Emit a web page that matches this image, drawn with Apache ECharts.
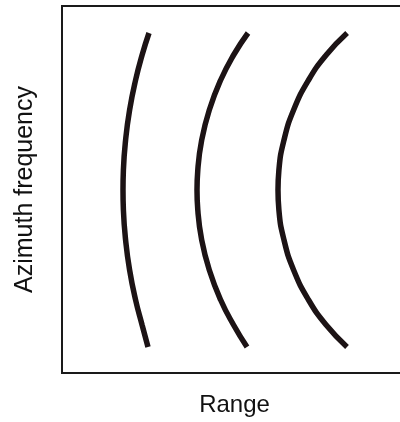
<!DOCTYPE html>
<html>
<head>
<meta charset="utf-8">
<script src="https://cdn.jsdelivr.net/npm/echarts@6/dist/echarts.min.js"></script>
<style>
  html, body { margin: 0; padding: 0; background: #fff; }
  #chart { width: 400px; height: 422px; }
</style>
</head>
<body>
<div id="chart"></div>
<script>
// vertical positions shared by the three arcs (plot units, bottom = 0)
var arcY = [340, 318, 293, 263, 233, 203, 183, 163, 133, 103, 73, 48, 26];
// horizontal positions of each arc (plot units, left = 0)
var arc1X = [87.0, 80.1, 73.6, 67.6, 63.6, 61.4, 61.0, 61.4, 63.6, 67.6, 73.6, 80.1, 86.0];
var arc2X = [186.0, 171.6, 158.7, 147.3, 139.7, 135.8, 135.0, 135.8, 139.7, 147.3, 158.7, 171.6, 185.0];
var arc3X = [285.1, 264.2, 246.6, 231.6, 222.0, 216.9, 216.0, 216.9, 222.0, 231.6, 246.6, 264.2, 285.0];
var xName = 'Range';
var yName = 'Azimuth frequency';

var myChart = echarts.init(document.getElementById('chart'), null, { renderer: 'canvas' });

function pairs(xs) {
  return xs.map(function (x, i) { return [x, arcY[i]]; });
}

function arcSeries(xs) {
  return {
    type: 'line',
    data: pairs(xs),
    smooth: 0.5,
    symbol: 'none',
    lineStyle: { color: '#1c1315', width: 5.5, cap: 'butt' },
    silent: true
  };
}

var option = {
  animation: false,
  backgroundColor: '#fff',
  grid: {
    left: 62,
    top: 6,
    width: 345,   // right edge runs past the window, like the scan
    bottom: 49,
    outerBoundsMode: 'none',
    show: true,
    borderColor: '#1a1a1a',
    borderWidth: 2
  },
  xAxis: {
    type: 'value',
    min: 0,
    max: 345,
    name: xName,
    nameLocation: 'middle',
    nameGap: 20,
    nameTextStyle: { color: '#111', fontSize: 24, fontFamily: 'Liberation Sans' },
    axisLine: { show: false },
    axisTick: { show: false },
    axisLabel: { show: false },
    splitLine: { show: false }
  },
  yAxis: {
    type: 'value',
    min: 0,
    max: 367,
    name: yName,
    nameLocation: 'middle',
    nameGap: 24,
    nameTextStyle: { color: '#111', fontSize: 25, fontFamily: 'Liberation Sans' },
    axisLine: { show: false },
    axisTick: { show: false },
    axisLabel: { show: false },
    splitLine: { show: false }
  },
  series: [arcSeries(arc1X), arcSeries(arc2X), arcSeries(arc3X)]
};

option && myChart.setOption(option);
</script>
</body>
</html>
